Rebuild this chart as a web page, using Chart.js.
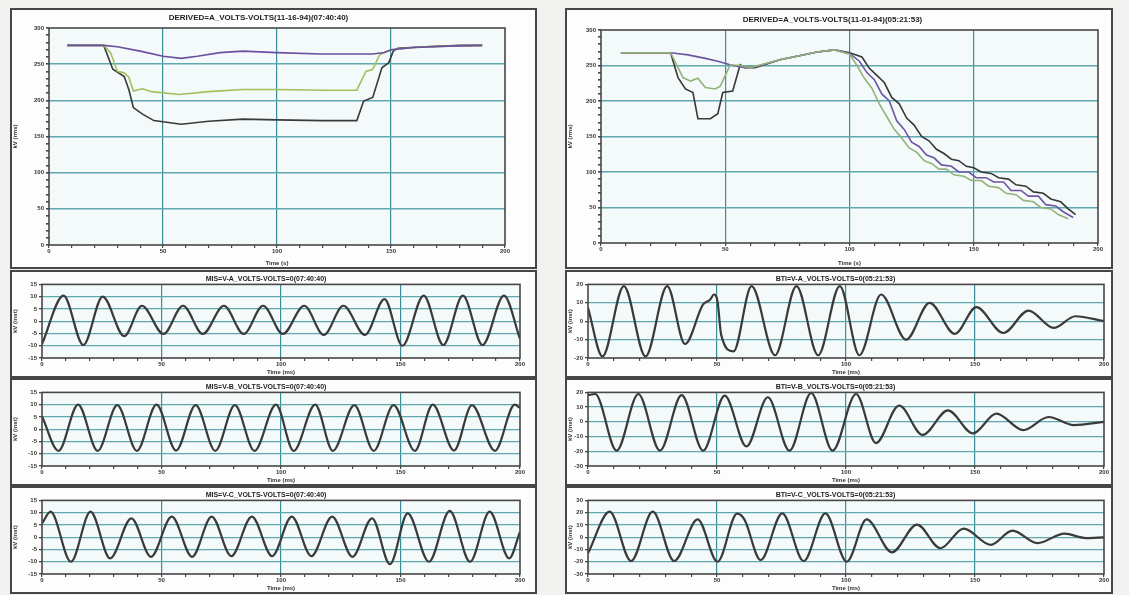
<!DOCTYPE html>
<html>
<head>
<meta charset="utf-8">
<script src="https://cdn.jsdelivr.net/npm/chart.js@4.4.1/dist/chart.umd.min.js"></script>
<style>
  body { margin: 0; width: 1129px; height: 595px; overflow: hidden; position: relative; background: #f1f1ef; }
  .box { position: absolute; border: 2px solid #464646; background: #fdfdfd; }
  .box canvas { display: block; }
</style>
</head>
<body>
<div class="box" style="left:10px;top:8px;width:523px;height:257px"><canvas id="lt" width="523" height="257"></canvas></div>
<div class="box" style="left:565px;top:8px;width:544px;height:257px"><canvas id="rt" width="544" height="257"></canvas></div>
<div class="box" style="left:10px;top:270px;width:523px;height:104px"><canvas id="la" width="523" height="104"></canvas></div>
<div class="box" style="left:10px;top:378px;width:523px;height:104px"><canvas id="lb" width="523" height="104"></canvas></div>
<div class="box" style="left:10px;top:486px;width:523px;height:104px"><canvas id="lc" width="523" height="104"></canvas></div>
<div class="box" style="left:565px;top:270px;width:544px;height:104px"><canvas id="ra" width="544" height="104"></canvas></div>
<div class="box" style="left:565px;top:378px;width:544px;height:104px"><canvas id="rb" width="544" height="104"></canvas></div>
<div class="box" style="left:565px;top:486px;width:544px;height:104px"><canvas id="rc" width="544" height="104"></canvas></div>
<script>
// --- RMS voltage, event of 11-16-94 (time in s, kV) ---
const ltPurpleT = [8, 24, 30, 40, 50, 58, 65, 75, 85, 100, 119, 142, 147, 150, 160, 175, 190];
const ltPurpleV = [276, 276, 274, 268, 261, 258, 261, 266, 268, 266, 264, 264, 266, 270, 273, 275, 276];
const ltGreenT = [8, 24, 27, 30, 33, 35, 37, 41, 45, 57, 70, 85, 100, 120, 135, 139, 142, 145, 150, 160, 175, 190];
const ltGreenV = [276, 276, 266, 240, 238, 232, 213, 216, 212, 208, 212, 215, 215, 214, 214, 240, 243, 263, 270, 273, 275, 276];
const ltBlackT = [8, 24, 28, 33, 35, 37, 41, 46, 58, 70, 85, 100, 120, 135, 138, 142, 146, 149, 151, 153, 165, 180, 190];
const ltBlackV = [276, 276, 243, 233, 215, 190, 181, 172, 167, 171, 174, 173, 172, 172, 199, 204, 245, 252, 268, 272, 274, 276, 276];

// --- RMS voltage, event of 11-01-94 ---
const rtPurpleT = [8, 28, 35, 42, 47, 53, 58, 62, 72, 87, 94, 100, 104, 107, 110, 113, 116, 119, 122, 125, 128, 131, 134, 137, 141, 144, 148, 151, 155, 158, 162, 165, 169, 172, 176, 179, 183, 186, 190];
const rtPurpleV = [268, 268, 265, 260, 256, 250, 247, 248, 258, 269, 272, 267, 256, 240, 230, 210, 200, 172, 160, 142, 136, 124, 120, 110, 108, 100, 100, 92, 92, 86, 86, 74, 74, 66, 66, 54, 52, 44, 36];
const rtGreenT = [8, 28, 33, 36, 39, 42, 46, 48, 52, 56, 60, 72, 87, 94, 100, 103, 106, 109, 112, 115, 118, 121, 124, 127, 130, 133, 136, 139, 142, 146, 149, 153, 156, 160, 163, 167, 170, 174, 177, 181, 184, 188];
const rtGreenV = [268, 268, 233, 228, 232, 219, 217, 221, 251, 250, 247, 258, 269, 272, 266, 250, 232, 218, 196, 178, 160, 148, 134, 128, 116, 112, 104, 104, 96, 94, 88, 88, 80, 78, 70, 68, 60, 58, 50, 48, 40, 34];
const rtBlackT = [8, 28, 31, 34, 37, 39, 44, 47, 49, 53, 56, 58, 62, 72, 87, 94, 100, 105, 108, 111, 114, 117, 120, 123, 126, 129, 132, 135, 138, 141, 144, 147, 150, 153, 157, 160, 164, 167, 171, 174, 178, 181, 185, 188, 191];
const rtBlackV = [268, 268, 233, 217, 212, 175, 175, 182, 212, 214, 251, 247, 247, 258, 269, 272, 268, 262, 246, 236, 226, 205, 196, 176, 166, 150, 144, 132, 126, 118, 116, 108, 106, 100, 98, 92, 90, 82, 80, 72, 70, 62, 58, 48, 40];

// --- waveform peaks / troughs (time in ms, kV) ---
const laT = [0, 9.0, 17.3, 25.4, 34.4, 41.8, 50.8, 59.0, 67.3, 76.1, 84.4, 92.5, 100.8, 109.7, 117.9, 126.1, 135.1, 143.3, 150.8, 159.7, 167.9, 176.1, 184.3, 193.3, 200];
const laV = [-9.3, 10.4, -9.7, 10.0, -6.1, 6.3, -5.2, 6.3, -5.2, 6.3, -5.2, 6.3, -5.2, 6.3, -5.6, 6.3, -5.6, 9.0, -10.0, 10.4, -9.7, 10.4, -9.7, 10.4, -7.2];
const lbT = [0, 6.9, 15.1, 23.3, 31.5, 39.7, 47.9, 56.1, 64.3, 72.5, 80.7, 88.9, 97.9, 105.3, 114.3, 121.7, 130.7, 138.8, 147.1, 156.0, 163.5, 172.4, 179.9, 189.5, 197.8, 200];
const lbV = [5.3, -8.8, 10.0, -8.8, 9.8, -8.8, 10.0, -8.7, 9.8, -8.8, 9.8, -8.8, 10.0, -8.8, 10.0, -8.8, 9.8, -8.8, 9.8, -8.8, 10.0, -8.7, 9.8, -8.8, 10.0, 8.7];
const lcT = [0, 3.6, 12.1, 20.3, 28.5, 37.4, 45.6, 54.3, 62.8, 71.0, 79.2, 87.8, 96.3, 104.5, 112.7, 121.4, 129.9, 138.1, 145.6, 153.0, 161.9, 170.6, 179.1, 187.3, 195.5, 200];
const lcV = [5.6, 10.4, -10.0, 10.4, -8.6, 7.7, -8.0, 8.4, -8.0, 8.4, -7.7, 8.4, -7.7, 8.4, -7.7, 8.4, -8.0, 7.7, -11.0, 9.7, -10.0, 10.7, -10.0, 10.4, -8.6, 2.2];

const raT = [0, 5.6, 13.9, 22.3, 30.7, 37.6, 44.6, 47.4, 48.8, 50.2, 51.6, 56.4, 63.4, 72.5, 80.8, 89.2, 97.6, 105.2, 113.6, 123.3, 132.4, 142.2, 150.5, 161.0, 170.7, 180.5, 188.9, 200];
const raV = [7.3, -19.1, 19.1, -19.1, 19.1, -12.4, 9.1, 11.8, 14.5, 10.9, -7.3, -16.4, 19.1, -18.5, 19.1, -18.5, 19.1, -18.5, 14.5, -10.0, 10.0, -6.9, 7.6, -6.4, 5.8, -3.6, 2.7, 0.0];
const rbT = [0, 2.8, 11.1, 19.5, 27.9, 36.3, 44.6, 53.0, 61.4, 69.7, 78.1, 86.5, 94.8, 103.9, 111.6, 120.6, 129.7, 139.5, 149.2, 158.3, 168.7, 178.5, 188.3, 200];
const rbV = [18.0, 18.9, -19.6, 18.9, -19.6, 18.2, -19.6, 17.8, -16.7, 16.7, -19.6, 19.6, -19.6, 18.9, -14.4, 11.1, -8.9, 7.8, -7.8, 5.6, -5.6, 3.3, -2.2, 0.0];
const rcT = [0, 8.4, 16.7, 25.1, 33.4, 42.5, 50.2, 57.8, 60.6, 66.9, 75.3, 83.6, 92.0, 100.3, 108.0, 117.8, 127.5, 136.6, 145.6, 156.1, 164.5, 174.2, 184.7, 193.0, 200];
const rcV = [-13.1, 20.8, -19.4, 20.8, -19.4, 14.5, -20.0, 19.2, 14.5, -18.6, 19.4, -19.4, 19.4, -20.0, 14.5, -12.3, 10.3, -9.0, 7.0, -6.2, 5.4, -4.8, 2.9, -0.7, -0.1];

const TEAL_H = '#5ea8b0';
const TEAL_V = '#3b8d98';
const AXIS = '#474747';
const tickFont = { family: 'Liberation Sans', size: 6, weight: 'bold' };

function pairs(t, v) {
    return t.map((x, i) => ({ x: x, y: v[i] }));
}

// plot background and frame round the chart area
const framePlugin = {
    id: 'frame',
    beforeDraw(chart) {
        const a = chart.chartArea, c = chart.ctx;
        c.save();
        c.fillStyle = '#f4f9fa';
        c.fillRect(a.left, a.top, a.right - a.left, a.bottom - a.top);
        c.restore();
    },
    afterDraw(chart) {
        const a = chart.chartArea, c = chart.ctx;
        c.save();
        c.strokeStyle = AXIS;
        c.lineWidth = 1.6;
        c.strokeRect(a.left, a.top, a.right - a.left, a.bottom - a.top);
        c.restore();
    }
};

function drawChart(id, o) {
    new Chart(document.getElementById(id), {
        type: 'line',
        data: { datasets: o.datasets },
        options: {
            responsive: false,
            animation: false,
            devicePixelRatio: 1,
            layout: { padding: { top: 0, right: o.padRight, bottom: 0, left: 0 } },
            plugins: {
                legend: { display: false },
                tooltip: { enabled: false },
                title: {
                    display: true, text: o.title, color: '#222',
                    font: { family: 'Liberation Sans', size: o.titleSize, weight: 'bold' },
                    padding: o.titlePad
                }
            },
            scales: {
                x: {
                    type: 'linear', min: 0, max: 200,
                    afterFit: s => { s.height = o.xH; },
                    border: { display: false },
                    grid: {
                        color: c => (c.tick && c.tick.value % 50 === 0 && c.tick.value > 0 && c.tick.value < 200) ? TEAL_V : 'transparent',
                        lineWidth: 1.2, tickColor: AXIS, tickLength: 3
                    },
                    ticks: {
                        stepSize: 10, autoSkip: false, maxRotation: 0, padding: 0,
                        font: tickFont, color: '#333',
                        callback: v => v % 50 === 0 ? v : ''
                    },
                    title: { display: true, text: o.xTitle, color: '#333', font: tickFont, padding: 0 }
                },
                y: {
                    min: o.yMin, max: o.yMax,
                    afterFit: s => { s.width = o.yW; },
                    border: { display: false },
                    grid: {
                        color: c => (c.tick && c.tick.value % o.yLabelStep === 0 && c.tick.value > o.yMin && c.tick.value < o.yMax) ? TEAL_H : 'transparent',
                        lineWidth: o.gridW, tickColor: AXIS, tickLength: 3
                    },
                    ticks: {
                        stepSize: o.yStep, autoSkip: false, padding: 2,
                        font: tickFont, color: '#333',
                        callback: v => v % o.yLabelStep === 0 ? v : ''
                    },
                    title: { display: true, text: o.yTitle, color: '#333', font: tickFont, padding: 0 }
                }
            }
        },
        plugins: [framePlugin]
    });
}

function rmsLine(t, v, color) {
    return { data: pairs(t, v), borderColor: color, borderWidth: 1.6, pointRadius: 0, tension: 0 };
}
function waveLine(t, v) {
    return { data: pairs(t, v), borderColor: '#3a3a3a', borderWidth: 2.2, pointRadius: 0, cubicInterpolationMode: 'monotone' };
}

drawChart('lt', {
    title: 'DERIVED=A_VOLTS-VOLTS(11-16-94)(07:40:40)', titleSize: 8, titlePad: { top: 3, bottom: 5.4 },
    padRight: 30, xH: 22, yW: 37, xTitle: 'Time (s)', yTitle: 'kV (rms)',
    yMin: 0, yMax: 300, yStep: 10, yLabelStep: 50, gridW: 1.6,
    datasets: [
        rmsLine(ltPurpleT, ltPurpleV, '#6b4fa0'),
        rmsLine(ltGreenT, ltGreenV, '#a4bf5c'),
        rmsLine(ltBlackT, ltBlackV, '#3a3a3a')
    ]
});

drawChart('rt', {
    title: 'DERIVED=A_VOLTS-VOLTS(11-01-94)(05:21:53)', titleSize: 8, titlePad: { top: 5, bottom: 5.4 },
    padRight: 13, xH: 24, yW: 34, xTitle: 'Time (s)', yTitle: 'kV (rms)',
    yMin: 0, yMax: 300, yStep: 10, yLabelStep: 50, gridW: 1.6,
    datasets: [
        rmsLine(rtGreenT, rtGreenV, '#92b27a'),
        rmsLine(rtPurpleT, rtPurpleV, '#6d55a3'),
        rmsLine(rtBlackT, rtBlackV, '#383838')
    ]
});

const small = (title, yMin, yMax, yStep, t, v, left) => ({
    title: title, titleSize: 7, titlePad: { top: 3, bottom: 1 },
    padRight: left ? 15 : 7, xH: 18, yW: left ? 30 : 21,
    xTitle: 'Time (ms)', yTitle: 'kV (inst)',
    yMin: yMin, yMax: yMax, yStep: yStep, yLabelStep: yStep, gridW: 1.3,
    datasets: [waveLine(t, v)]
});

drawChart('la', small('MIS=V-A_VOLTS-VOLTS=0(07:40:40)', -15, 15, 5, laT, laV, true));
drawChart('lb', small('MIS=V-B_VOLTS-VOLTS=0(07:40:40)', -15, 15, 5, lbT, lbV, true));
drawChart('lc', small('MIS=V-C_VOLTS-VOLTS=0(07:40:40)', -15, 15, 5, lcT, lcV, true));
drawChart('ra', small('BTI=V-A_VOLTS-VOLTS=0(05:21:53)', -20, 20, 10, raT, raV, false));
drawChart('rb', small('BTI=V-B_VOLTS-VOLTS=0(05:21:53)', -30, 20, 10, rbT, rbV, false));
drawChart('rc', small('BTI=V-C_VOLTS-VOLTS=0(05:21:53)', -30, 30, 10, rcT, rcV, false));
</script>
</body>
</html>
